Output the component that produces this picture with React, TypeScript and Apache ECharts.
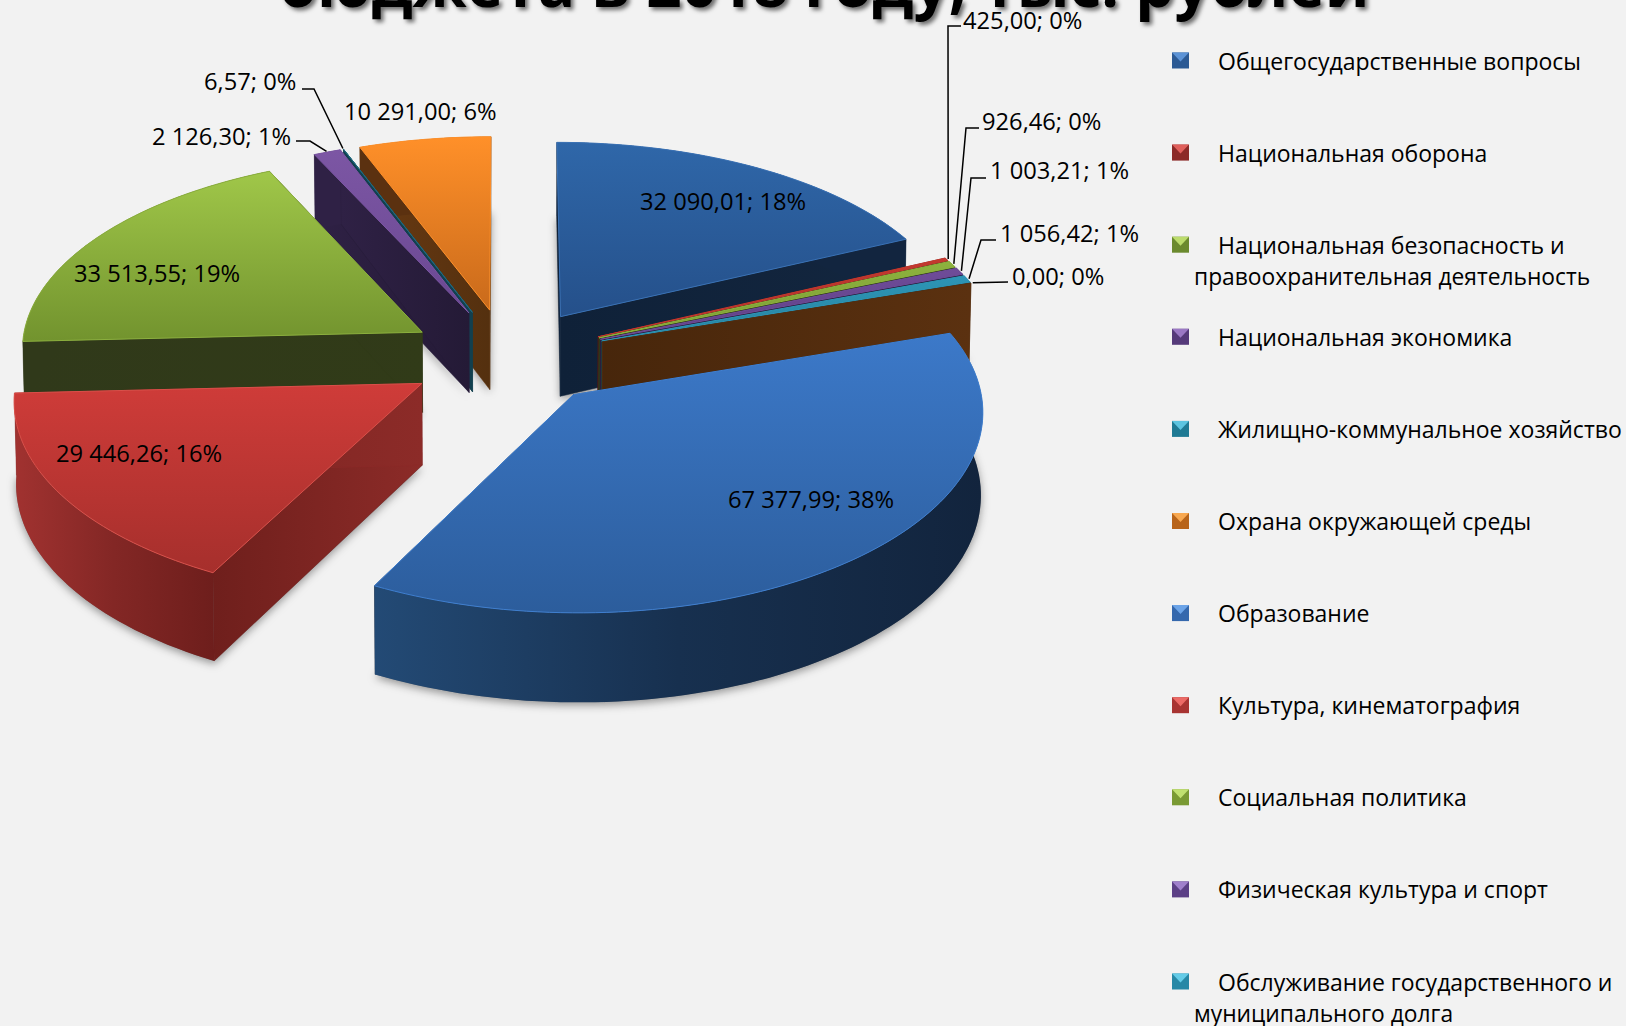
import React, { useEffect, useRef } from "react";
import * as echarts from "echarts";

const titleText = "бюджета в 2018 году, тыс. рублей";
const values = [32090.01, 425.0, 926.46, 1003.21, 1056.42, 0.0, 67377.99, 29446.26, 33513.55, 2126.3, 6.57, 10291.0];
const labels = [
  "32 090,01; 18%", "425,00; 0%", "926,46; 0%", "1 003,21; 1%", "1 056,42; 1%", "0,00; 0%",
  "67 377,99; 38%", "29 446,26; 16%", "33 513,55; 19%", "2 126,30; 1%", "6,57; 0%", "10 291,00; 6%",
];
const legendNames = [
  ["Общегосударственные вопросы"],
  ["Национальная оборона"],
  ["Национальная безопасность и", "правоохранительная деятельность"],
  ["Национальная экономика"],
  ["Жилищно-коммунальное хозяйство"],
  ["Охрана окружающей среды"],
  ["Образование"],
  ["Культура, кинематография"],
  ["Социальная политика"],
  ["Физическая культура и спорт"],
  ["Обслуживание государственного и", "муниципального долга"],
];

// paint order, back to front
const paintOrder = [0, 1, 2, 3, 4, 5, 11, 10, 9, 8, 7, 6];

// projection of the tilted pie
const OX = 507.5, OY = 357, A = 402, B = 194.4, H = 81, K = 0.08, KX = 0.075, EXPLODE = 0.25, FONT = "Open Sans";

type SliceStyle = { top: [string, string]; edge: string; side: [string, string]; wall: [string, string, string] };
const sliceStyles: SliceStyle[] = [
  { top: ["#2f67a9", "#25508a"], edge: "#3a72b6", side: ["#0f2138", "#13263f"], wall: ["#12253f", "#12253f", "#12253f"] },
  { top: ["#c4392f", "#a92f2a"], edge: "#c4392f", side: ["#3f1412", "#5a1a18"], wall: ["#5a1a18", "#5a1a18", "#5a1a18"] },
  { top: ["#8db23e", "#7c9c36"], edge: "#8db23e", side: ["#2f3a16", "#33401a"], wall: ["#33401a", "#33401a", "#33401a"] },
  { top: ["#6f4c99", "#5e4084"], edge: "#6f4c99", side: ["#2a1f3f", "#2a1f3f"], wall: ["#2a1f3f", "#2a1f3f", "#2a1f3f"] },
  { top: ["#2d95b6", "#28839f"], edge: "#2d95b6", side: ["#12404f", "#12404f"], wall: ["#12404f", "#12404f", "#12404f"] },
  { top: ["#f08a2c", "#f08a2c"], edge: "#5a3010", side: ["#47260b", "#5b3110"], wall: ["#5b3110", "#5b3110", "#5b3110"] },
  { top: ["#3c79c9", "#2c5d9c"], edge: "#3f7fd0", side: ["#12253f", "#12253f"], wall: ["#234a75", "#17304f", "#12243d"] },
  { top: ["#cf3c39", "#a62f2c"], edge: "#d9504a", side: ["#6f1f1c", "#8c2b28"], wall: ["#a13230", "#832725", "#6e1e1c"] },
  { top: ["#a0c749", "#72932e"], edge: "#8cb03e", side: ["#30391a", "#313b18"], wall: ["#30391a", "#30391a", "#30391a"] },
  { top: ["#7c56a4", "#6a4892"], edge: "#7c56a4", side: ["#2f2145", "#241a36"], wall: ["#2f2145", "#2f2145", "#2f2145"] },
  { top: ["#2d95b6", "#28839f"], edge: "#1f6a80", side: ["#12404f", "#12404f"], wall: ["#12404f", "#12404f", "#12404f"] },
  { top: ["#ff9029", "#c96a1b"], edge: "#ff9029", side: ["#6a3a12", "#54300f"], wall: ["#5b3110", "#5b3110", "#5b3110"] },
];

// label layout: text anchor (left, middle) and the elbow of the leader line, if any
type LabelPos = { x: number; y: number; elbow?: [number, number]; lead?: [number, number] };
const labelLayout: LabelPos[] = [
  { x: 640, y: 201 },
  { x: 963, y: 20, lead: [961, 26], elbow: [948, 26] },
  { x: 982, y: 121, lead: [979, 128], elbow: [966, 128] },
  { x: 990, y: 170, lead: [986, 178], elbow: [971, 178] },
  { x: 1000, y: 233, lead: [996, 240], elbow: [981, 240] },
  { x: 1012, y: 276, lead: [1008, 282] },
  { x: 728, y: 499 },
  { x: 56, y: 453 },
  { x: 74, y: 273 },
  { x: 152, y: 136, lead: [296, 141], elbow: [310, 141] },
  { x: 204, y: 81, lead: [302, 89], elbow: [314, 89] },
  { x: 344, y: 111 },
];

const legendColors = [
  ["#2c5a94", "#5c93d6"], ["#8c2a28", "#e0605c"], ["#6b8a2e", "#bcdc6c"], ["#553a7a", "#9a78c4"], ["#1f7a94", "#5cc4e0"],
  ["#b8641a", "#f8a850"], ["#3568ad", "#6ca4e8"], ["#a83432", "#ec6a66"], ["#7a9a34", "#c0e070"], ["#5c4086", "#a080cc"], ["#2788a6", "#64cce8"],
];
const LEGEND_FIRST = 60.5, LEGEND_STEP = 92.1;

const total = values.reduce((s, v) => s + v, 0);
const starts: number[] = [];
values.reduce((acc, v, i) => { starts[i] = acc; return acc + (v / total) * 360; }, 0);
const sweep = (i: number) => (values[i] / total) * 360;
const rad = (d: number) => (d * Math.PI) / 180;

function project(u: number, v: number, lower = false): number[] {
  const s = 1 / (1 + K * v);
  const x = (A * u) / (1 + KX * v), y = -B * v * s;
  return lower ? [OX + x * 0.996, OY + y + H * s] : [OX + x, OY + y];
}
function pointOf(i: number, deg: number, r: number, lower = false): number[] {
  const mid = rad(starts[i] + sweep(i) / 2), t = rad(deg);
  return project(EXPLODE * Math.sin(mid) + r * Math.sin(t), EXPLODE * Math.cos(mid) + r * Math.cos(t), lower);
}
function arc(i: number, a0: number, a1: number, lower = false): number[][] {
  const n = Math.max(1, Math.ceil(Math.abs(a1 - a0) / 1.5));
  return Array.from({ length: n + 1 }, (_, j) => pointOf(i, a0 + ((a1 - a0) * j) / n, 1, lower));
}
const linear = (c: string[], horiz = false) =>
  new echarts.graphic.LinearGradient(0, 0, horiz ? 1 : 0, horiz ? 0 : 1, c.map((color, k) => ({ offset: k / (c.length - 1), color })));

function renderSlice(_: any, api: any) {
  const i = api.value(0) as number;
  const st = sliceStyles[i];
  const a0 = starts[i], a1 = a0 + sweep(i);
  const topArc = arc(i, a0, a1);
  const lowArc = arc(i, a0, a1, true);
  const apex = pointOf(i, a0, 0);
  const apexLow = pointOf(i, a0, 0, true);
  const bottom = [apexLow, ...lowArc];
  const children: any[] = [
    { type: "polygon", shape: { points: bottom }, style: { fill: "rgba(90,90,90,0.6)", shadowBlur: 8, shadowColor: "rgba(0,0,0,0.65)", shadowOffsetY: 3 } },
    { type: "polygon", shape: { points: [apex, topArc[0], lowArc[0], apexLow] }, style: { fill: linear(st.side, true), stroke: st.side[0], lineWidth: 0.5 } },
    { type: "polygon", shape: { points: [apex, topArc[topArc.length - 1], lowArc[lowArc.length - 1], apexLow] }, style: { fill: linear(st.side, true), stroke: st.side[1], lineWidth: 0.5 } },
    { type: "polygon", shape: { points: [...topArc, ...[...lowArc].reverse()] }, style: { fill: linear(st.wall, true) } },
  ];
  if (values[i] > 0) {
    children.push({ type: "polygon", shape: { points: [apex, ...topArc] }, style: { fill: linear(st.top), stroke: st.edge, lineWidth: 1 } });
  }
  return { type: "group", children };
}

function renderLabel(_: any, api: any) {
  const i = api.value(0) as number;
  const pos = labelLayout[i];
  const children: any[] = [
    { type: "text", style: { text: labels[i], x: pos.x, y: pos.y, fill: "#000", fontSize: 23.7, fontFamily: FONT, align: "left", verticalAlign: "middle" } },
  ];
  if (pos.lead) {
    const tip = pointOf(i, starts[i] + sweep(i) / 2, 1.005);
    const pts = pos.elbow ? [pos.lead, pos.elbow, tip] : [pos.lead, tip];
    children.push({ type: "polyline", shape: { points: pts }, style: { stroke: "#000", lineWidth: 1.5, fill: "none" } });
  }
  return { type: "group", children };
}

function legendGraphics() {
  const out: any[] = [];
  legendNames.forEach((lines, i) => {
    const y = LEGEND_FIRST + i * LEGEND_STEP;
    const [dark, light] = legendColors[i];
    out.push({ type: "rect", shape: { x: 1172, y: y - 8, width: 17, height: 16 }, style: { fill: linear([dark, dark]) } });
    out.push({ type: "polygon", shape: { points: [[1172, y - 8], [1189, y - 8], [1180.5, y + 1]] }, style: { fill: light } });
    out.push({ type: "text", style: { text: lines[0], x: 1218, y, fill: "#000", fontSize: 23, fontFamily: FONT, align: "left", verticalAlign: "middle" } });
    if (lines[1]) {
      out.push({ type: "text", style: { text: lines[1], x: 1194, y: y + 32, fill: "#000", fontSize: 22.8, fontFamily: FONT, align: "left", verticalAlign: "middle" } });
    }
  });
  return out;
}

export default function App() {
  const ref = useRef<HTMLDivElement>(null);
  useEffect(() => {
    document.body.style.margin = "0";
    document.body.style.background = "#f2f2f2";
    const chart = echarts.init(ref.current!, undefined, { renderer: "svg" });
    chart.setOption({
      animation: false,
      backgroundColor: "#f2f2f2",
      title: {
        text: titleText,
        left: 819,
        top: -53,
        textAlign: "center",
        textStyle: {
          fontFamily: FONT, fontWeight: "bold", fontSize: 62, color: "#000",
          textShadowColor: "rgba(0,0,0,0.55)", textShadowBlur: 4, textShadowOffsetX: 3, textShadowOffsetY: 3,
        },
      },
      graphic: { elements: legendGraphics() },
      series: [
        { type: "custom", coordinateSystem: "none", silent: true, clip: false, renderItem: renderSlice, data: paintOrder.map((i) => [i, values[i]]), z: 2 },
        { type: "custom", coordinateSystem: "none", silent: true, clip: false, renderItem: renderLabel, data: values.map((v, i) => [i, v]), z: 3 },
      ],
    });
    return () => chart.dispose();
  }, []);
  return <div ref={ref} style={{ position: "fixed", left: 0, top: 0, width: 1626, height: 1026 }} />;
}
